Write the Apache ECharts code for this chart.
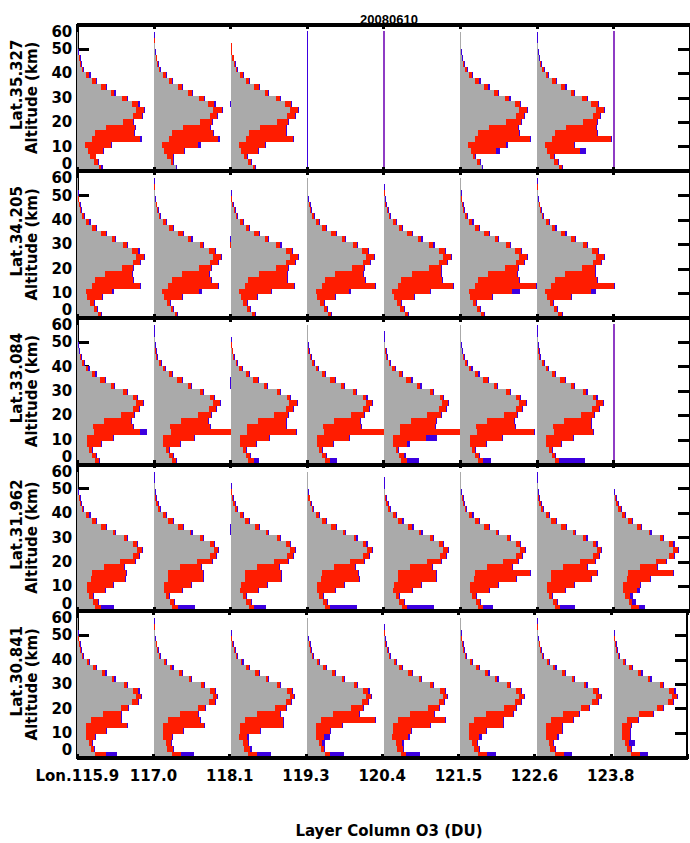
<!DOCTYPE html>
<html>
<head>
<meta charset="utf-8">
<script src="https://cdn.jsdelivr.net/npm/echarts@6/dist/echarts.min.js"></script>
<style>
  html, body { margin: 0; padding: 0; background: #fff; }
  #chart { width: 690px; height: 843px; }
  /* IDL-style hard edges, no seams between stacked layers */
  #chart svg path, #chart svg rect { shape-rendering: crispEdges; }
</style>
</head>
<body>
<div id="chart"></div>
<script>
// ---- labels ----
var dateLabel = '20080610';
var xTitle = 'Layer Column O3 (DU)';
var yTitle = 'Altitude (km)';
var lonLabels = ['Lon.115.9', '117.0', '118.1', '119.3', '120.4', '121.5', '122.6', '123.8'];
var latLabels = ['Lat.35.327', 'Lat.34.205', 'Lat.33.084', 'Lat.31.962', 'Lat.30.841'];
var altTicks = [0, 10, 20, 30, 40, 50, 60];
// layer mid altitudes (km), bottom to top
var layerMid = ['1.2', '3.6', '5.9', '8.3', '10.7', '13.1', '15.4', '17.8', '20.2', '22.6', '24.9', '27.3',
  '29.7', '32.1', '34.4', '36.8', '39.2', '41.6', '43.9', '46.3', '48.7', '51.1', '53.4', '55.8'];

// ---- a priori (grey), one per latitude row, DU ----
var aprioriR1 = [11, 8.5, 6.5, 5.2, 4, 7.5, 9, 14.5, 23, 28, 29.5, 27.2, 22.5, 17, 11.8, 7.5, 4.5, 2.5, 1.5, 0.8, 0.4, 0.3, 0.2, 0.2];
var aprioriR2 = [10.5, 8.3, 6.4, 5, 4.2, 7.2, 8.8, 14, 22.5, 27.8, 29.5, 27.5, 22.8, 17.2, 11.8, 7.5, 4.5, 2.5, 1.5, 0.8, 0.4, 0.3, 0.2, 0.2];
var aprioriR3 = [8.8, 7.5, 6, 4.7, 4.7, 8.3, 8, 13.5, 21.8, 27.7, 29.3, 28, 23, 16.8, 11.3, 7.5, 4.3, 2.5, 1.2, 0.6, 0.4, 0.3, 0.2, 0.2];
var aprioriR4 = [9, 7.8, 6, 4.8, 5, 7, 7.2, 13.2, 21.5, 28, 29.8, 27.8, 23.2, 17.8, 12, 7.2, 4.5, 2.2, 1.2, 0.6, 0.4, 0.3, 0.2, 0.2];
var aprioriR5 = [8.8, 6.7, 6, 4.3, 4.5, 4.5, 7, 13, 22, 27.5, 29.5, 28, 23.3, 17.5, 12.3, 7.8, 5, 2.5, 1.5, 0.8, 0.4, 0.3, 0.2, 0.2];

// ---- retrieved (red) and second profile (blue), DU, per panel ----
var redR1C1 = [11.8, 10.5, 9.2, 13, 16.8, 31.3, 28.5, 28.8, 28, 32.2, 33.5, 30.5, 24.7, 18.5, 14.2, 9.2, 6, 3, 1.8, 1.2, 0.5, 0.3, 0.2, 0.2];
var blueR1C1 = [12.6, 10.8, 9.5, 13.5, 17.5, 32.2, 29, 29.2, 28.4, 32.6, 34, 31.1, 25.3, 19.1, 14.8, 9.8, 6.6, 3.5, 2.3, 1.6, 0.8, 0.5, 0.4, 0.3];
var redR1C2 = [10.8, 9.3, 9.7, 15, 22, 32, 29.3, 28, 28.8, 31.5, 33.8, 30.2, 24.8, 18.8, 14, 9, 6, 3.2, 2, 1.3, 0.6, 0.4, 0.3, 0.2];
var blueR1C2 = [11.3, 9.8, 10.1, 15.5, 23.5, 33, 29.8, 28.5, 29.3, 32, 34.3, 30.8, 25.4, 19.4, 14.6, 9.6, 6.6, 3.7, 2.5, 1.7, 0.9, 0.6, 0.4, 0.3];
var redR1C3 = [12, 10, 8, 13.5, 17, 31, 27.5, 27.5, 28.5, 32, 33.5, 30.3, 24.6, 18.6, 14.1, 9.2, 6.1, 3.3, 2.2, 1.5, 0.7, 0.5, 0.3, 0.3];
var blueR1C3 = [12.8, 10.5, 8.5, 14, 17.6, 31.6, 28, 28, 29, 32.5, 34, 30.9, 25.2, 19.2, 14.7, 9.8, 6.7, 3.8, 2.6, 1.8, 0.9, 0.6, 0.4, 0.3];
var redR1C6 = [11, 9.8, 7.5, 17.8, 23, 34.8, 29.5, 29, 30.5, 31.8, 33.5, 29.8, 24.5, 18.6, 14, 9.5, 5.7, 3.2, 2, 1, 0.5, 0.3, 0.2, 0.2];
var blueR1C6 = [11.5, 10.3, 8, 19.8, 23.6, 35.3, 30, 29.5, 31, 32.3, 34, 30.4, 25.1, 19.2, 14.6, 10.1, 6.3, 3.7, 2.5, 1.4, 0.8, 0.5, 0.4, 0.3];
var redR1C7 = [12.6, 10.3, 8.3, 21.6, 18.5, 37, 30, 29.6, 30, 31.6, 33.3, 30.3, 25, 18.6, 14.2, 9.5, 5.5, 3.3, 2, 1.2, 0.5, 0.3, 0.2, 0.2];
var blueR1C7 = [13, 10.8, 8.8, 24.7, 19, 37.5, 30.5, 30.1, 30.5, 32.1, 33.8, 30.9, 25.6, 19.2, 14.8, 10.1, 6.1, 3.8, 2.4, 1.6, 0.8, 0.5, 0.4, 0.3];

var redR2C1 = [12, 10, 8.5, 12.5, 17.5, 31.5, 28, 27.5, 28, 31.5, 33.5, 30.5, 24.8, 18.8, 14.2, 9.2, 6, 3.2, 2, 1.3, 0.6, 0.4, 0.3, 0.2];
var blueR2C1 = [12.5, 10.5, 9, 13, 18.5, 32, 28.5, 28, 28.5, 32, 34, 31.1, 25.4, 19.4, 14.8, 9.8, 6.6, 3.7, 2.5, 1.7, 0.9, 0.6, 0.4, 0.3];
var redR2C2 = [11.5, 9.5, 8, 14, 22.5, 31.8, 28.5, 27.5, 28.3, 31.8, 33.5, 30.3, 24.6, 18.7, 14.3, 9.3, 6.1, 3.2, 2, 1.3, 0.6, 0.4, 0.3, 0.2];
var blueR2C2 = [12, 10, 8.5, 14.5, 24, 32.3, 29, 28, 28.8, 32.3, 34, 30.9, 25.2, 19.3, 14.9, 9.9, 6.7, 3.7, 2.5, 1.7, 0.9, 0.6, 0.4, 0.3];
var redR2C3 = [12, 9.8, 8, 13, 20, 31.5, 28, 28, 28.5, 32, 33.8, 30.6, 24.9, 18.8, 14.1, 9.1, 6, 3.1, 2, 1.2, 0.6, 0.4, 0.3, 0.2];
var blueR2C3 = [12.5, 10.3, 8.5, 13.5, 20.8, 32, 28.5, 28.5, 29, 32.5, 34.3, 31.2, 25.5, 19.4, 14.7, 9.7, 6.6, 3.6, 2.5, 1.6, 0.9, 0.6, 0.4, 0.3];
var redR2C4 = [12, 10, 8.2, 14, 21, 34, 29, 28, 28.5, 31.5, 33.5, 30.4, 24.8, 18.8, 14.2, 9.2, 6, 3.2, 2, 1.3, 0.6, 0.4, 0.3, 0.2];
var blueR2C4 = [12.5, 10.5, 8.7, 14.5, 21.8, 34.5, 29.5, 28.5, 29, 32, 34, 31, 25.4, 19.4, 14.8, 9.8, 6.6, 3.7, 2.5, 1.7, 0.9, 0.6, 0.4, 0.3];
var redR2C5 = [12, 10, 8.5, 15, 23, 34.5, 29, 28.5, 28.8, 31.8, 33.5, 30.5, 24.8, 18.8, 14.2, 9.2, 6, 3.2, 2, 1.3, 0.6, 0.4, 0.3, 0.2];
var blueR2C5 = [12.5, 10.5, 9, 15.5, 23.8, 35, 29.5, 29, 29.3, 32.3, 34, 31.1, 25.4, 19.4, 14.8, 9.8, 6.6, 3.7, 2.5, 1.7, 0.9, 0.6, 0.4, 0.3];
var redR2C6 = [12, 10, 8, 16, 26, 38, 29.5, 28.5, 29, 32, 33.5, 30.4, 24.7, 18.7, 14.2, 9.2, 6, 3.2, 2, 1.3, 0.6, 0.4, 0.3, 0.2];
var blueR2C6 = [12.5, 10.5, 8.5, 16.5, 30, 38.5, 30, 29, 29.5, 32.5, 34, 31, 25.3, 19.3, 14.8, 9.8, 6.6, 3.7, 2.5, 1.7, 0.9, 0.6, 0.4, 0.3];
var redR2C7 = [12.5, 10, 8, 17, 27, 38.5, 30, 29, 29, 32, 33.5, 30.5, 24.8, 18.8, 14.2, 9.2, 6, 3.2, 2, 1.3, 0.6, 0.4, 0.3, 0.2];
var blueR2C7 = [13, 10.5, 8.5, 17.5, 29.5, 39, 30.5, 29.5, 29.5, 32.5, 34, 31.1, 25.4, 19.4, 14.8, 9.8, 6.6, 3.7, 2.5, 1.7, 0.9, 0.6, 0.4, 0.3];

var redR3C1 = [11, 9.5, 7.5, 12, 18, 31.5, 28, 27, 28.5, 31, 33, 29.7, 24.7, 18.3, 13.8, 9, 5.5, 3.3, 1.7, 1, 0.5, 0.3, 0.2, 0.2];
var blueR3C1 = [11.5, 10, 8, 12.5, 18.5, 35, 28.5, 27.5, 29, 31.5, 33.5, 30.3, 25.3, 18.9, 14.4, 9.6, 6.1, 3.8, 2.2, 1.4, 0.8, 0.5, 0.4, 0.3];
var redR3C2 = [11, 9.5, 7.5, 13, 20, 39, 28, 27, 28.5, 31, 33, 29.8, 24.6, 18.4, 13.9, 9.1, 5.6, 3.3, 1.7, 1, 0.5, 0.3, 0.2, 0.2];
var blueR3C2 = [11.5, 10, 8, 13.5, 20.5, 39.5, 28.5, 27.5, 29, 31.5, 33.5, 30.4, 25.2, 19, 14.5, 9.7, 6.2, 3.8, 2.2, 1.4, 0.8, 0.5, 0.4, 0.3];
var redR3C3 = [11.5, 9.5, 7.5, 12.5, 19, 32.5, 27.5, 27.5, 28.5, 31, 33, 29.7, 24.7, 18.3, 13.8, 9, 5.5, 3.3, 1.7, 1, 0.5, 0.3, 0.2, 0.2];
var blueR3C3 = [14, 10, 8, 13, 19.5, 33, 28, 28, 29, 31.5, 33.5, 30.3, 25.3, 18.9, 14.4, 9.6, 6.1, 3.8, 2.2, 1.4, 0.8, 0.5, 0.4, 0.3];
var redR3C4 = [11.5, 9.5, 7.5, 13, 21, 38.5, 27, 26.5, 28.5, 31, 32.5, 29.6, 24.5, 18.3, 13.8, 9, 5.5, 3.3, 1.7, 1, 0.5, 0.3, 0.2, 0.2];
var blueR3C4 = [15, 10, 8, 13.5, 21.5, 39, 27.5, 27, 29, 31.5, 33, 30.2, 25.1, 18.9, 14.4, 9.6, 6.1, 3.8, 2.2, 1.4, 0.8, 0.5, 0.4, 0.3];
var redR3C5 = [11.8, 10, 7.2, 11.7, 21, 38, 25.5, 26, 28.8, 31, 32.2, 29.7, 24.7, 18.3, 13.8, 9, 5.5, 3.3, 1.7, 1, 0.5, 0.3, 0.2, 0.2];
var blueR3C5 = [17.5, 11, 7.5, 13.3, 26.7, 38.3, 26, 26.7, 29.3, 31.5, 32.7, 30.3, 25.3, 18.9, 14.4, 9.6, 6.1, 3.8, 2.2, 1.4, 0.8, 0.5, 0.4, 0.3];
var redR3C6 = [11.5, 9.5, 7.5, 13, 21, 37, 27.5, 27, 28.5, 31, 33, 29.8, 24.7, 18.3, 13.8, 9, 5.5, 3.3, 1.7, 1, 0.5, 0.3, 0.2, 0.2];
var blueR3C6 = [15.5, 10, 8, 13.5, 21.5, 37.5, 28, 27.5, 29, 31.5, 33.5, 30.4, 25.3, 18.9, 14.4, 9.6, 6.1, 3.8, 2.2, 1.4, 0.8, 0.5, 0.4, 0.3];
var redR3C7 = [11, 9, 7.5, 12, 18, 28, 27, 27, 28.5, 31, 33, 29.7, 24.7, 18.3, 13.8, 9, 5.5, 3.3, 1.7, 1, 0.5, 0.3, 0.2, 0.2];
var blueR3C7 = [24, 9.5, 8, 12.5, 18.5, 28.5, 27.5, 27.5, 29, 31.5, 33.5, 30.3, 25.3, 18.9, 14.4, 9.6, 6.1, 3.8, 2.2, 1.4, 0.8, 0.5, 0.4, 0.3];

var redR4C1 = [11.8, 10.2, 7.7, 14, 18, 24, 24.3, 23.5, 28.8, 31, 32.2, 29.7, 24.7, 18.8, 14.3, 9.3, 6, 3, 2, 1.2, 0.5, 0.3, 0.2, 0.2];
var blueR4C1 = [18.3, 10.7, 8.2, 14.5, 18.5, 24.5, 24.8, 24, 29.3, 31.5, 32.7, 30.3, 25.3, 19.4, 14.9, 9.9, 6.6, 3.5, 2.5, 1.6, 0.8, 0.5, 0.4, 0.3];
var redR4C2 = [11.8, 10, 7.7, 14, 18.5, 24.5, 24.5, 23.5, 28.8, 31, 32.2, 29.8, 24.6, 18.7, 14.3, 9.3, 6, 3, 2, 1.2, 0.5, 0.3, 0.2, 0.2];
var blueR4C2 = [20.5, 10.5, 8.2, 14.5, 19, 25, 25, 24, 29.3, 31.5, 32.7, 30.4, 25.2, 19.3, 14.9, 9.9, 6.6, 3.5, 2.5, 1.6, 0.8, 0.5, 0.4, 0.3];
var redR4C3 = [11.5, 10, 7.7, 13.5, 18, 25, 25, 24, 28.5, 31, 32.2, 29.7, 24.7, 18.8, 14.3, 9.3, 6, 3, 2, 1.2, 0.5, 0.3, 0.2, 0.2];
var blueR4C3 = [17.5, 10.5, 8.2, 14, 18.5, 25.5, 25.5, 24.5, 29, 31.5, 32.7, 30.3, 25.3, 19.4, 14.9, 9.9, 6.6, 3.5, 2.5, 1.6, 0.8, 0.5, 0.4, 0.3];
var redR4C4 = [11.5, 10, 7.7, 14, 18.5, 26, 25.5, 24, 28.5, 31, 32.2, 29.6, 24.6, 18.8, 14.3, 9.3, 6, 3, 2, 1.2, 0.5, 0.3, 0.2, 0.2];
var blueR4C4 = [25, 10.5, 8.2, 14.5, 19, 26.5, 26, 24.5, 29, 31.5, 32.7, 30.2, 25.2, 19.4, 14.9, 9.9, 6.6, 3.5, 2.5, 1.6, 0.8, 0.5, 0.4, 0.3];
var redR4C5 = [11.5, 10, 7.7, 14, 18.5, 26, 26, 24, 28.5, 31, 32.2, 29.7, 24.7, 18.8, 14.3, 9.3, 6, 3, 2, 1.2, 0.5, 0.3, 0.2, 0.2];
var blueR4C5 = [25, 10.5, 8.2, 14.5, 19, 26.5, 26.5, 24.5, 29, 31.5, 32.7, 30.3, 25.3, 19.4, 14.9, 9.9, 6.6, 3.5, 2.5, 1.6, 0.8, 0.5, 0.4, 0.3];
var redR4C6 = [11.5, 10, 7.7, 14.5, 19, 28, 35, 26, 28.8, 31, 32.2, 29.8, 24.7, 18.8, 14.3, 9.3, 6, 3, 2, 1.2, 0.5, 0.3, 0.2, 0.2];
var blueR4C6 = [16.5, 10.5, 8.2, 15, 19.5, 28.5, 35.5, 26.5, 29.3, 31.5, 32.7, 30.4, 25.3, 19.4, 14.9, 9.9, 6.6, 3.5, 2.5, 1.6, 0.8, 0.5, 0.4, 0.3];
var redR4C7 = [11.5, 10, 7.7, 14, 18.5, 27, 30, 25, 28.8, 31, 32.2, 29.7, 24.7, 18.8, 14.3, 9.3, 6, 3, 2, 1.2, 0.5, 0.3, 0.2, 0.2];
var blueR4C7 = [19, 10.5, 8.2, 14.5, 19, 27.5, 30.5, 25.5, 29.3, 31.5, 32.7, 30.3, 25.3, 19.4, 14.9, 9.9, 6.6, 3.5, 2.5, 1.6, 0.8, 0.5, 0.4, 0.3];
var redR4C8 = [13, 9.2, 8.3, 12, 13.3, 18.3, 30, 21.7, 26.3, 30.5, 32.5, 30, 24.7, 18.5, 13.7, 9.2, 5.8, 3.7, 2.5, 1.3, 0.5, 0.3, 0.2, 0.2];
var blueR4C8 = [15.8, 11.3, 9.6, 13.3, 13.8, 18.8, 30.5, 22.2, 26.8, 31, 33, 30.6, 25.3, 19.1, 14.3, 9.8, 6.4, 4.2, 2.9, 1.7, 0.8, 0.5, 0.4, 0.3];

var redR5C1 = [14.3, 8.3, 7.5, 9, 14.5, 25, 22, 21.8, 25.5, 30.3, 31.7, 30.5, 24.7, 18.5, 14, 9.2, 5.9, 3, 2, 1.3, 0.6, 0.4, 0.3, 0.2];
var blueR5C1 = [19.7, 8.8, 8, 9.5, 15, 25.5, 22.5, 22.3, 26, 30.8, 32.2, 31.1, 25.3, 19.1, 14.6, 9.8, 6.5, 3.5, 2.5, 1.7, 0.9, 0.6, 0.4, 0.3];
var redR5C2 = [13.5, 9.3, 8.3, 9, 14.7, 25, 23, 22, 25.5, 30.3, 31.7, 30.4, 24.8, 18.6, 14, 9.2, 5.9, 3, 2, 1.3, 0.6, 0.4, 0.3, 0.2];
var blueR5C2 = [20, 9.8, 8.8, 9.5, 15.2, 25.5, 23.5, 22.5, 26, 30.8, 32.2, 31, 25.4, 19.2, 14.6, 9.8, 6.5, 3.5, 2.5, 1.7, 0.9, 0.6, 0.4, 0.3];
var redR5C3 = [13, 9.5, 8.5, 8, 14.7, 26, 26, 24.5, 27.5, 30.3, 31.7, 30.5, 24.7, 18.5, 14, 9.2, 5.9, 3, 2, 1.3, 0.6, 0.4, 0.3, 0.2];
var blueR5C3 = [20, 10.5, 9, 9.2, 15.2, 26.5, 26.5, 25, 28, 30.8, 32.2, 31.1, 25.3, 19.1, 14.6, 9.8, 6.5, 3.5, 2.5, 1.7, 0.9, 0.6, 0.4, 0.3];
var redR5C4 = [11.3, 8.5, 7.5, 8.5, 11.5, 17.2, 33.8, 26, 28, 30.3, 31.7, 30.6, 24.8, 18.5, 14, 9.2, 5.9, 3, 2, 1.3, 0.6, 0.4, 0.3, 0.2];
var blueR5C4 = [18.3, 9, 8.8, 11.3, 12, 17.7, 34.3, 26.5, 28.5, 30.8, 32.2, 31.2, 25.4, 19.1, 14.6, 9.8, 6.5, 3.5, 2.5, 1.7, 0.9, 0.6, 0.4, 0.3];
var redR5C5 = [11.3, 9.5, 9, 12, 13.8, 23, 30.5, 25, 27.5, 30.3, 31.7, 30.5, 24.7, 18.5, 14, 9.2, 5.9, 3, 2, 1.3, 0.6, 0.4, 0.3, 0.2];
var blueR5C5 = [18, 10, 10, 13, 14.3, 23.5, 31, 25.5, 28, 30.8, 32.2, 31.1, 25.3, 19.1, 14.6, 9.8, 6.5, 3.5, 2.5, 1.7, 0.9, 0.6, 0.4, 0.3];
var redR5C6 = [13.5, 9.5, 8.5, 9.5, 13, 21.5, 21.5, 26.5, 28, 30.5, 32, 30.4, 24.7, 18.5, 14, 9.2, 5.9, 3, 2, 1.3, 0.6, 0.4, 0.3, 0.2];
var blueR5C6 = [17.8, 10, 9, 10.7, 13.5, 22, 22, 27, 28.5, 31, 32.5, 31, 25.3, 19.1, 14.6, 9.8, 6.5, 3.5, 2.5, 1.7, 0.9, 0.6, 0.4, 0.3];
var redR5C7 = [13.3, 9, 8, 10, 12.5, 12.5, 18, 20.8, 25.8, 30.5, 32, 30.5, 24.7, 18.5, 14, 9.2, 5.9, 3, 2, 1.3, 0.6, 0.4, 0.3, 0.2];
var blueR5C7 = [17.5, 9.5, 8.5, 10.8, 13, 13, 18.5, 21.3, 26.3, 31, 32.5, 31.1, 25.3, 19.1, 14.6, 9.8, 6.5, 3.5, 2.5, 1.7, 0.9, 0.6, 0.4, 0.3];
var redR5C8 = [13.3, 9, 8, 8.5, 8.5, 9, 12.5, 20, 25, 30, 32, 30.5, 24.7, 18.5, 14, 9.2, 5.9, 3, 2, 1.3, 0.6, 0.4, 0.3, 0.2];
var blueR5C8 = [17.5, 9.5, 10.8, 9, 9, 9.5, 13, 20.5, 25.5, 30.5, 32.5, 31.1, 25.3, 19.1, 14.6, 9.8, 6.5, 3.5, 2.5, 1.7, 0.9, 0.6, 0.4, 0.3];

// null = no retrieval for that pixel
var apriori = [aprioriR1, aprioriR2, aprioriR3, aprioriR4, aprioriR5];
var red = [
  [redR1C1, redR1C2, redR1C3, null, null, redR1C6, redR1C7, null],
  [redR2C1, redR2C2, redR2C3, redR2C4, redR2C5, redR2C6, redR2C7, null],
  [redR3C1, redR3C2, redR3C3, redR3C4, redR3C5, redR3C6, redR3C7, null],
  [redR4C1, redR4C2, redR4C3, redR4C4, redR4C5, redR4C6, redR4C7, redR4C8],
  [redR5C1, redR5C2, redR5C3, redR5C4, redR5C5, redR5C6, redR5C7, redR5C8]
];
var blue = [
  [blueR1C1, blueR1C2, blueR1C3, null, null, blueR1C6, blueR1C7, null],
  [blueR2C1, blueR2C2, blueR2C3, blueR2C4, blueR2C5, blueR2C6, blueR2C7, null],
  [blueR3C1, blueR3C2, blueR3C3, blueR3C4, blueR3C5, blueR3C6, blueR3C7, null],
  [blueR4C1, blueR4C2, blueR4C3, blueR4C4, blueR4C5, blueR4C6, blueR4C7, blueR4C8],
  [blueR5C1, blueR5C2, blueR5C3, blueR5C4, blueR5C5, blueR5C6, blueR5C7, blueR5C8]
];
// zero line drawn in empty panels: [colour, width]
var emptyLine = [
  [null, null, null, ['#3c00e0', 1.3], ['#8e3cc4', 2.2], null, null, ['#8e3cc4', 2.2]],
  [null, null, null, null, null, null, null, null],
  [null, null, null, null, null, null, null, ['#8e3cc4', 2.2]],
  [null, null, null, null, null, null, null, null],
  [null, null, null, null, null, null, null, null]
];

// ---- layout ----
var PLOT_L = 77.3, PLOT_T = 24.5, ROW_H = 146.6, COL_W = 76.6;
var TOP_KM = 57, DU_FULL = 38.3;
var FONT = 'DejaVu Sans';
var C_GRAY = '#aaaaaa', C_RED = '#ff1c00', C_BLUE = '#3c00e0';

var chart = echarts.init(document.getElementById('chart'), null, { renderer: 'svg' });
var grids = [], xAxes = [], yAxes = [], series = [];

function lab(size) {
  return { fontFamily: FONT, fontWeight: 'bold', fontSize: size, color: '#000' };
}
function bareAxis(gi, min, max) {
  return {
    gridIndex: gi, type: 'value', position: 'left', min: min, max: max, z: 1,
    axisLine: { show: false, onZero: false }, axisTick: { show: false }, splitLine: { show: false }
  };
}

// frame for every latitude row
latLabels.forEach(function (lat, r) {
  var gi = grids.length;
  var last = r === latLabels.length - 1;
  var lo = altTicks[0], hi = altTicks[altTicks.length - 1];
  grids.push({ left: PLOT_L, top: PLOT_T + r * ROW_H, width: COL_W * lonLabels.length, height: ROW_H });
  ['bottom', 'top'].forEach(function (pos) {
    xAxes.push({
      gridIndex: gi, type: 'value', position: pos, min: 0, max: lonLabels.length, interval: 1, z: 5,
      axisLine: { onZero: false, lineStyle: { color: '#000', width: 3.5 } },
      axisTick: { inside: true, length: 4, lineStyle: { color: '#000', width: 3 } },
      splitLine: { show: false },
      axisLabel: Object.assign(lab(15), {
        show: last && pos === 'bottom', margin: 11,
        formatter: function (v) { return lonLabels[v] || ''; }
      })
    });
  });
  // altitude axis: ticks + inner labels
  yAxes.push({
    gridIndex: gi, type: 'value', position: 'left', min: lo, max: hi, interval: 10, z: 1,
    axisLine: { onZero: false, lineStyle: { color: '#000', width: 2.5 } },
    axisTick: { inside: true, length: 12, lineStyle: { color: '#000', width: 3 } },
    splitLine: { show: false },
    axisLabel: Object.assign(lab(15), { margin: 5, lineHeight: 13, customValues: altTicks.slice(1, -1) }),
    name: yTitle, nameLocation: 'middle', nameRotate: 90, nameGap: 38,
    nameTextStyle: lab(15)
  });
  // end labels (0 and 60) pulled inside the row as IDL does: same scale, shifted range
  var bottomLab = bareAxis(gi, lo - 3, hi - 3);
  bottomLab.axisLabel = Object.assign(lab(15), { margin: 5, lineHeight: 13, customValues: [lo] });
  yAxes.push(bottomLab);
  var topLab = bareAxis(gi, lo + 3, hi + 3);
  topLab.axisLabel = Object.assign(lab(15), { margin: 5, lineHeight: 13, customValues: [hi] });
  yAxes.push(topLab);
  // latitude caption, slightly above the row middle
  var latAxis = bareAxis(gi, lo, hi);
  latAxis.axisLabel = { show: false };
  latAxis.name = lat;
  latAxis.nameLocation = 'middle';
  latAxis.nameRotate = 90;
  latAxis.nameGap = 53;
  latAxis.nameTextStyle = Object.assign(lab(15), { padding: [0, 0, 0, 26] });
  yAxes.push(latAxis);
  yAxes.push({
    gridIndex: gi, type: 'value', position: 'right', min: lo, max: hi, interval: 10, z: 5,
    axisLine: { onZero: false, lineStyle: { color: '#000', width: 1.5 } },
    axisTick: { inside: true, length: 12, lineStyle: { color: '#000', width: 3 } },
    splitLine: { show: false }, axisLabel: { show: false }
  });
});

// one small cartesian per profile
latLabels.forEach(function (lat, r) {
  lonLabels.forEach(function (lon, c) {
    var gi = grids.length;
    var h = ROW_H * TOP_KM / 60;
    grids.push({ left: PLOT_L + c * COL_W, top: PLOT_T + (r + 1) * ROW_H - h, width: COL_W, height: h });
    xAxes.push({ gridIndex: gi, type: 'value', min: 0, max: DU_FULL, show: false });
    var line = emptyLine[r][c];
    yAxes.push({
      gridIndex: gi, type: 'category', data: layerMid, show: !!line, z: 3,
      axisLine: { show: !!line, onZero: false, lineStyle: { color: line ? line[0] : '#000', width: line ? line[1] : 1 } },
      axisTick: { show: false }, axisLabel: { show: false }, splitLine: { show: false }
    });
    if (!red[r][c]) return;
    var xi = xAxes.length - 1, yi = yAxes.length - 1;
    [[blue[r][c], C_BLUE, 2], [red[r][c], C_RED, 3], [apriori[r], C_GRAY, 4]].forEach(function (s) {
      series.push({
        type: 'bar', xAxisIndex: xi, yAxisIndex: yi, data: s[0],
        barWidth: '100%', barGap: '-100%', clip: false, silent: true, z: s[2],
        itemStyle: { color: s[1] }
      });
    });
  });
});

chart.setOption({
  animation: false,
  backgroundColor: '#fff',
  title: [
    { text: dateLabel, left: 384, top: 8, textAlign: 'center', textStyle: { fontFamily: 'Liberation Sans', fontWeight: 'bold', fontSize: 13, color: '#000' } },
    { text: xTitle, left: 384, top: 818, textAlign: 'center', textStyle: lab(15) }
  ],
  grid: grids,
  xAxis: xAxes,
  yAxis: yAxes,
  series: series
});
</script>
</body>
</html>
